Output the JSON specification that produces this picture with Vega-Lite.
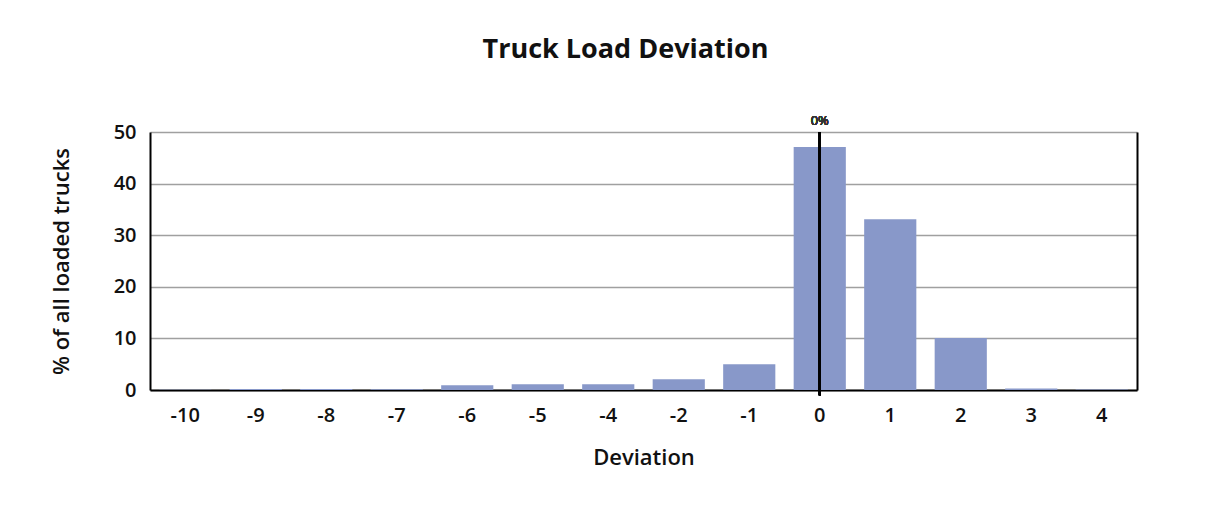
{
  "$schema": "https://vega.github.io/schema/vega-lite/v6.json",
  "width": 987,
  "height": 258,
  "autosize": {"type": "none"},
  "padding": {"left": 150, "top": 132, "right": 81, "bottom": 127},
  "background": "white",
  "config": {
    "font": "Open Sans",
    "view": {"stroke": null}
  },
  "title": {
    "text": "Truck Load Deviation",
    "fontSize": 27,
    "fontWeight": "bold",
    "font": "Open Sans",
    "color": "#111",
    "anchor": "middle",
    "dx": -18,
    "offset": 51
  },
  "data": {
    "values": [
      {"deviation": "-10", "pct": 0.05},
      {"deviation": "-9", "pct": 0.2},
      {"deviation": "-8", "pct": 0.2},
      {"deviation": "-7", "pct": 0.15},
      {"deviation": "-6", "pct": 0.9},
      {"deviation": "-5", "pct": 1.1},
      {"deviation": "-4", "pct": 1.1},
      {"deviation": "-2", "pct": 2.1},
      {"deviation": "-1", "pct": 5.0},
      {"deviation": "0", "pct": 47.1},
      {"deviation": "1", "pct": 33.1},
      {"deviation": "2", "pct": 10.1},
      {"deviation": "3", "pct": 0.3},
      {"deviation": "4", "pct": 0.1}
    ]
  },
  "encoding": {
    "x": {
      "field": "deviation",
      "type": "nominal",
      "sort": null,
      "scale": {"paddingInner": 0.26, "paddingOuter": 0.13},
      "axis": {
        "title": "Deviation",
        "titleFontSize": 22,
        "titleFontWeight": 600,
        "titleColor": "#111",
        "titlePadding": 22,
        "labelAngle": 0,
        "labelFontSize": 20,
        "labelFontWeight": 600,
        "labelColor": "#111",
        "labelPadding": 15,
        "ticks": false,
        "domainColor": "#000",
        "domainWidth": 2
      }
    }
  },
  "layer": [
    {
      "mark": {"type": "bar", "color": "#8898c9"},
      "encoding": {
        "y": {
          "field": "pct",
          "type": "quantitative",
          "scale": {"domain": [0, 50], "nice": false},
          "axis": {
            "title": "% of all loaded trucks",
            "titleFontSize": 22,
            "titleFontWeight": 600,
            "titleColor": "#111",
            "titlePadding": 40,
            "values": [0, 10, 20, 30, 40, 50],
            "labelFontSize": 20,
            "labelFontWeight": 600,
            "labelColor": "#111",
            "labelPadding": 14,
            "ticks": false,
            "domainColor": "#000",
            "domainWidth": 2,
            "gridColor": "#a0a0a0",
            "gridWidth": 1.5
          }
        }
      }
    },
    {
      "mark": {"type": "rule", "color": "#000", "strokeWidth": 2},
      "encoding": {
        "x": {"datum": "0"},
        "y": {
          "datum": 50,
          "type": "quantitative",
          "scale": {"domain": [0, 50], "nice": false},
          "axis": {
            "orient": "right",
            "title": null,
            "labels": false,
            "ticks": false,
            "grid": false,
            "domainColor": "#000",
            "domainWidth": 2
          }
        },
        "y2": {"datum": -1}
      }
    },
    {
      "mark": {"type": "text", "fontSize": 13, "fontWeight": "normal", "color": "#333", "dy": -11},
      "encoding": {
        "x": {"datum": "0"},
        "y": {"datum": 50, "type": "quantitative", "scale": {"domain": [0, 50], "nice": false}, "axis": null},
        "text": {"value": "0%"}
      }
    }
  ],
  "resolve": {"scale": {"y": "independent"}, "axis": {"y": "independent"}}
}
